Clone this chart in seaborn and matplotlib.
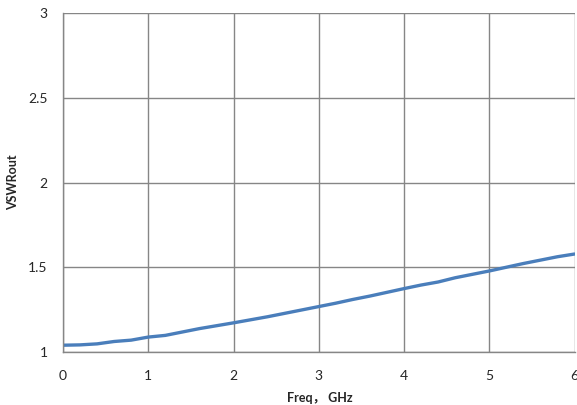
import seaborn as sns
import matplotlib.pyplot as plt
import pandas as pd

# frequency (GHz) and VSWR
freq = [0.0, 0.2, 0.4, 0.6, 0.8, 1.0, 1.2, 1.4, 1.6, 1.8,
        2.0, 2.2, 2.4, 2.6, 2.8, 3.0, 3.2, 3.4, 3.6, 3.8,
        4.0, 4.2, 4.4, 4.6, 4.8, 5.0, 5.2, 5.4, 5.6, 5.8, 6.0]
vswr = [1.040, 1.042, 1.048, 1.062, 1.070, 1.088, 1.098, 1.118, 1.138, 1.155,
        1.172, 1.190, 1.208, 1.228, 1.248, 1.268, 1.288, 1.310, 1.330, 1.352,
        1.374, 1.395, 1.413, 1.438, 1.458, 1.478, 1.500, 1.522, 1.542, 1.562, 1.578]
xticks = [0, 1, 2, 3, 4, 5, 6]
yticks = [1, 1.5, 2, 2.5, 3]
ytick_labels = ['1', '1.5', '2', '2.5', '3']

sns.set_style("white")
plt.rcParams['font.family'] = ['Lato', 'Noto Sans CJK SC', 'DejaVu Sans']

df = pd.DataFrame({'freq': freq, 'vswr': vswr})

fig = plt.figure(figsize=(5.77, 4.05), dpi=100)
ax = fig.add_axes([63 / 577, 53 / 405, 511.5 / 577, 339 / 405])
sns.lineplot(x='freq', y='vswr', data=df, ax=ax, color='#4A7EBB', linewidth=2.4)

ax.set_xlim(0, 6)
ax.set_ylim(1, 3)
ax.set_xticks(xticks)
ax.set_yticks(yticks)
ax.set_yticklabels(ytick_labels)
ax.grid(True, color='#868686', linewidth=1)
for s in ['top', 'right']:
    ax.spines[s].set_visible(False)
for s in ['left', 'bottom']:
    ax.spines[s].set_color('#868686')
    ax.spines[s].set_linewidth(1)
ax.tick_params(axis='both', direction='out', length=5, width=1, color='#868686',
               labelsize=10, labelcolor='#262626')
ax.tick_params(axis='x', pad=8)
ax.tick_params(axis='y', pad=6)

ax.set_xlabel('Freq， GHz', fontsize=9, fontweight='bold')
ax.set_ylabel('VSWRout', fontsize=9, fontweight='bold')
ax.xaxis.set_label_coords(0.502, -0.117)
ax.yaxis.set_label_coords(-0.086, 0.5)

fig.savefig('out.png', dpi=100)
